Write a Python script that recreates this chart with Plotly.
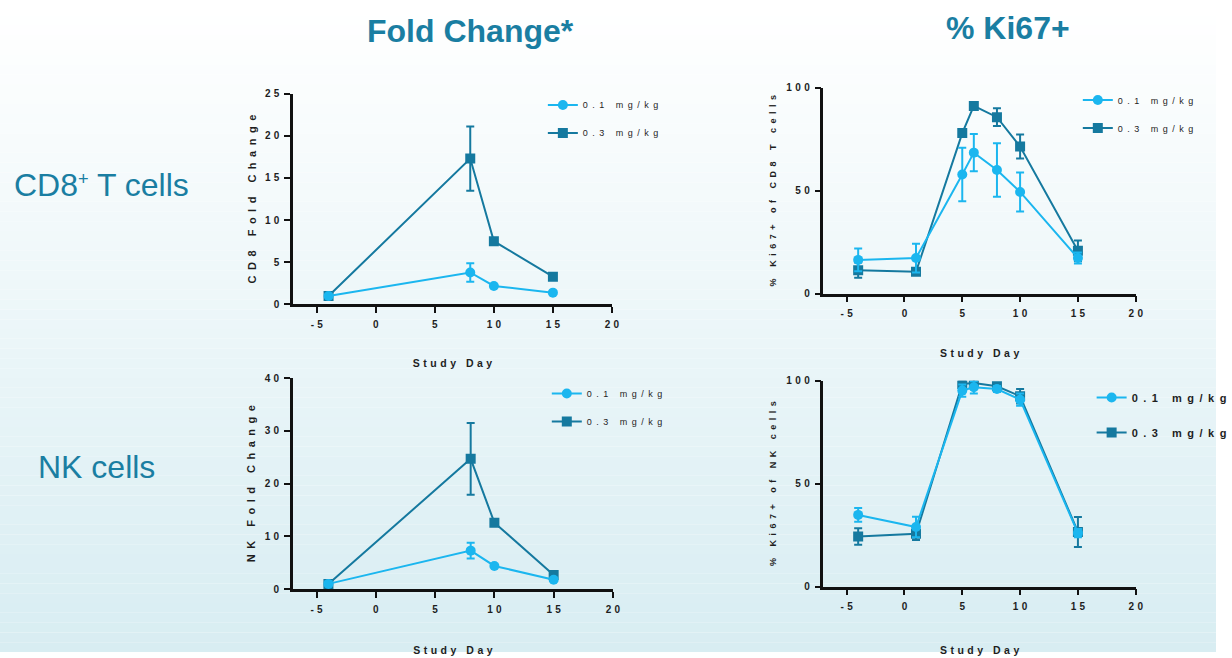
import plotly.graph_objects as go

# ---- data ----
fold_days = [-4, 8, 10, 15]
cd8_fold_01 = [1.0, 3.8, 2.2, 1.4]
cd8_fold_01_err = [0, 1.1, 0, 0]
cd8_fold_03 = [1.0, 17.3, 7.5, 3.3]
cd8_fold_03_err = [0, 3.8, 0, 0]
nk_fold_01 = [1.0, 7.3, 4.4, 1.8]
nk_fold_01_err = [0, 1.5, 0, 0]
nk_fold_03 = [1.0, 24.7, 12.6, 2.7]
nk_fold_03_err = [0, 6.8, 0, 0]

ki_days = [-4, 1, 5, 6, 8, 10, 15]
cd8_ki_01 = [16.4, 17.3, 57.9, 68.5, 60.1, 49.4, 17.3]
cd8_ki_01_err = [5.5, 7.0, 13.0, 9.0, 13.0, 9.5, 2.7]
cd8_ki_03 = [11.4, 10.6, 78.0, 91.2, 85.7, 71.5, 20.8]
cd8_ki_03_err = [3.7, 1.0, 0, 0, 4.3, 5.8, 5.0]
nk_ki_01 = [34.8, 28.9, 95.2, 96.8, 96.0, 90.8, 26.0]
nk_ki_01_err = [3.3, 5.0, 3.0, 3.0, 1.5, 3.0, 2.0]
nk_ki_03 = [24.3, 25.6, 98.4, 98.9, 97.3, 92.5, 26.5]
nk_ki_03_err = [4.0, 3.0, 2.0, 2.0, 1.5, 3.5, 7.3]

dose_labels = ["0.1 mg/kg", "0.3 mg/kg"]
x_ticks = [-5, 0, 5, 10, 15, 20]
fold_cd8_ticks = [0, 5, 10, 15, 20, 25]
fold_nk_ticks = [0, 10, 20, 30, 40]
ki_ticks = [0, 50, 100]

# ---- style ----
LIGHT = "#1bb6ef"
DARK = "#15799f"
HEAD = "#1a7ea2"
INK = "#1e1e1e"
W, H = 1232, 658
FONT = "Liberation Sans, Arial, sans-serif"

EN = "\u2002"      # half-em gap
THIRD = "\u2004"   # third-em gap


def spaced(s, gap=EN):
    """Letter-spaced label text (SVG text has no letter-spacing of its own here)."""
    return gap.join("\u00a0" if ch == " " else ch for ch in str(s))


def px_x(p):
    return p / W


def px_y(p):
    return 1 - p / H


fig = go.Figure()

panels = [
    # (xaxis, yaxis, days, low, low_err, high, high_err, legend)
    ("x", "y", fold_days, cd8_fold_01, cd8_fold_01_err, cd8_fold_03, cd8_fold_03_err, "legend"),
    ("x2", "y2", ki_days, cd8_ki_01, cd8_ki_01_err, cd8_ki_03, cd8_ki_03_err, "legend2"),
    ("x3", "y3", fold_days, nk_fold_01, nk_fold_01_err, nk_fold_03, nk_fold_03_err, "legend3"),
    ("x4", "y4", ki_days, nk_ki_01, nk_ki_01_err, nk_ki_03, nk_ki_03_err, "legend4"),
]

for xa, ya, days, lo, lo_e, hi, hi_e, lg in panels:
    fig.add_trace(go.Scatter(
        x=days, y=hi, xaxis=xa, yaxis=ya, mode="lines+markers",
        name=spaced(dose_labels[1]), legend=lg, legendrank=2, legendgroup=lg + "b",
        line=dict(color=DARK, width=2),
        marker=dict(symbol="square", size=10, color=DARK),
        error_y=dict(type="data", array=hi_e, visible=True, width=4, thickness=2, color=DARK),
    ))
    fig.add_trace(go.Scatter(
        x=days, y=lo, xaxis=xa, yaxis=ya, mode="lines+markers",
        name=spaced(dose_labels[0]), legend=lg, legendrank=1, legendgroup=lg + "a",
        line=dict(color=LIGHT, width=2),
        marker=dict(symbol="circle", size=10, color=LIGHT),
        error_y=dict(type="data", array=lo_e, visible=True, width=4, thickness=2, color=LIGHT),
    ))

tick_font = dict(family=FONT, size=10, color=INK, weight="bold")

axis_common = dict(
    showline=True, linecolor="#111111", linewidth=2.5, showgrid=False, zeroline=False,
    ticks="outside", ticklen=6, tickwidth=2, tickcolor="#111111", tickfont=tick_font,
    ticklabelstandoff=3,
)

# plot-area geometry in pixels: (left, right, bottom, top)
geo = {
    "1": (297, 620, 304, 89.3),
    "2": (834.3, 1150.7, 293, 83.3),
    "3": (296.7, 621, 594, 379),
    "4": (834.3, 1150.7, 591.3, 381.7),
}
# y range, ticks, title, title font size, x-title standoff, y-title standoff
y_specs = {
    "1": ([0, 25], fold_cd8_ticks, "CD8 Fold Change", 11, 31, 7),
    "2": ([0, 100], ki_ticks, "% Ki67+ of CD8 T cells", 9, 32, 9),
    "3": ([0, 40], fold_nk_ticks, "NK Fold Change", 11, 33, 7),
    "4": ([0, 100], ki_ticks, "% Ki67+ of NK cells", 9, 36, 9),
}

layout = {}
for k, (l, r, b, t) in geo.items():
    sx = "" if k == "1" else k
    yr, yt, ytitle, yfs, xstand, ystand = y_specs[k]
    layout["xaxis" + sx] = dict(
        axis_common, domain=[px_x(l), px_x(r)], range=[-7, 20], anchor="y" + sx,
        tickvals=x_ticks, ticktext=[spaced(v, THIRD) for v in x_ticks],
        title=dict(text=spaced("Study Day", THIRD), standoff=xstand,
                   font=dict(family=FONT, size=10.5, color=INK, weight="bold")),
    )
    layout["yaxis" + sx] = dict(
        axis_common, domain=[px_y(b), px_y(t)], range=yr, anchor="x" + sx,
        tickvals=yt, ticktext=[spaced(v, THIRD) for v in yt],
        title=dict(text=spaced(ytitle), standoff=ystand,
                   font=dict(family=FONT, size=yfs, color=INK, weight="bold")),
    )

legend_common = dict(
    bgcolor="rgba(0,0,0,0)", xanchor="left", yanchor="top", traceorder="grouped",
    tracegroupgap=9, itemwidth=30,
)
leg_font = dict(family=FONT, size=9, color=INK)
layout["legend"] = dict(legend_common, x=px_x(550), y=px_y(86), font=leg_font)
layout["legend2"] = dict(legend_common, x=px_x(1092), y=px_y(81), font=leg_font)
layout["legend3"] = dict(legend_common, x=px_x(554), y=px_y(380), font=leg_font)
layout["legend4"] = dict(legend_common, x=px_x(1106), y=px_y(384), tracegroupgap=16,
                         font=dict(family=FONT, size=11, color=INK, weight="bold"))

# soft vertical background gradient, white at the top to pale blue at the bottom
shapes = []
bands = 66
top_rgb = (255, 255, 255)
bot_rgb = (216, 237, 242)
for i in range(bands):
    f = i / (bands - 1)
    c = tuple(round(top_rgb[j] + (bot_rgb[j] - top_rgb[j]) * f) for j in range(3))
    shapes.append(dict(
        type="rect", xref="paper", yref="paper", x0=0, x1=1,
        y0=1 - (i + 1) / bands, y1=1 - i / bands,
        fillcolor="rgb(%d,%d,%d)" % c, line=dict(width=0), layer="below",
    ))

annotations = [
    dict(text="<b>Fold Change*</b>", x=px_x(477), y=px_y(25), xref="paper", yref="paper",
         showarrow=False, xanchor="center", yanchor="middle",
         font=dict(family=FONT, size=32, color=HEAD)),
    dict(text="<b>% Ki67+</b>", x=px_x(1021), y=px_y(22), xref="paper", yref="paper",
         showarrow=False, xanchor="center", yanchor="middle",
         font=dict(family=FONT, size=32, color=HEAD)),
    dict(text="CD8<span style='font-size:26px'><sup>+</sup></span> T cells",
         x=px_x(12), y=px_y(182), xref="paper", yref="paper",
         showarrow=False, xanchor="left", yanchor="middle",
         font=dict(family=FONT, size=32, color=HEAD)),
    dict(text="NK cells", x=px_x(36), y=px_y(470), xref="paper", yref="paper",
         showarrow=False, xanchor="left", yanchor="middle",
         font=dict(family=FONT, size=32, color=HEAD)),
]

fig.update_layout(
    width=W, height=H, margin=dict(l=0, r=0, t=0, b=0),
    paper_bgcolor="white", plot_bgcolor="rgba(0,0,0,0)",
    shapes=shapes, annotations=annotations, showlegend=True,
    **layout,
)

fig.write_html("out.html")
